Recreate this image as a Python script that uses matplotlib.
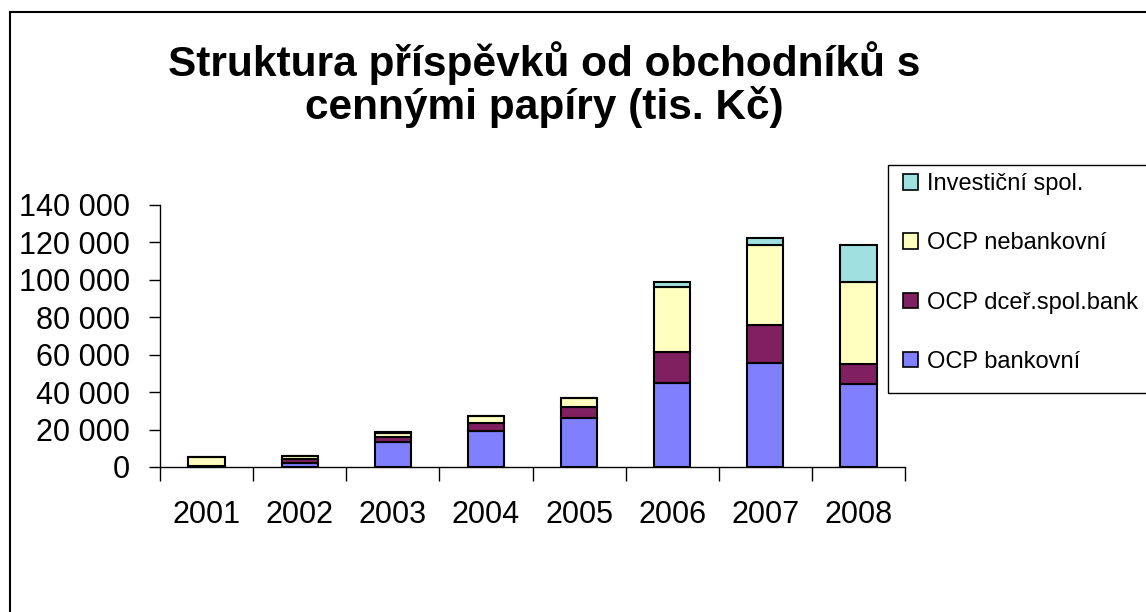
import matplotlib
matplotlib.use("Agg")
import matplotlib.pyplot as plt
from matplotlib.patches import Rectangle
from matplotlib.lines import Line2D
import numpy as np

plt.rcParams['font.family'] = ['Liberation Sans', 'DejaVu Sans']

years = ["2001", "2002", "2003", "2004", "2005", "2006", "2007", "2008"]
ocp_bankovni = [300, 2300, 13200, 19400, 26000, 45000, 55700, 44200]
ocp_dcer = [500, 1800, 3000, 4300, 5900, 16200, 20300, 10700]
ocp_nebankovni = [4300, 1900, 2000, 3600, 4800, 35100, 42700, 43800]
investicni = [0, 0, 300, 0, 0, 2500, 3400, 20100]

series_names = ["OCP bankovní", "OCP dceř.spol.bank", "OCP nebankovní", "Investiční spol."]
series_colors = ["#8080FF", "#802060", "#FFFFC0", "#A0E0E0"]
yticks = [0, 20000, 40000, 60000, 80000, 100000, 120000, 140000]

W, H = 1146, 612
fig = plt.figure(figsize=(W / 100, H / 100), dpi=100)
ax = fig.add_axes([160 / W, 1 - 467 / H, 745 / W, 262 / H])

x = np.arange(len(years))
bottom = np.zeros(len(years))
handles = []
for vals, name, col in zip([ocp_bankovni, ocp_dcer, ocp_nebankovni, investicni], series_names, series_colors):
    vals = np.array(vals, dtype=float)
    b = ax.bar(x, vals, width=0.39, bottom=bottom, color=col, edgecolor='black', linewidth=1.5, label=name, zorder=3)
    handles.append(b)
    bottom += vals

ax.set_xlim(-0.5, len(years) - 0.5)
ax.set_ylim(0, 140000)
ax.set_yticks(yticks)
ax.set_yticklabels([f"{v:,}".replace(",", " ") for v in yticks], fontsize=22)
ax.set_xticks(np.arange(len(years) + 1) - 0.5)
ax.set_xticklabels([])
ax.set_xticks(x, minor=True)
ax.set_xticklabels(years, minor=True, fontsize=22)
ax.tick_params(axis='x', which='major', length=10, width=1, direction='out')
ax.tick_params(axis='x', which='minor', length=0, pad=24)
ax.tick_params(axis='y', length=8, width=1, direction='out', pad=13.5)
for s in ['top', 'right']:
    ax.spines[s].set_visible(False)
for s in ['left', 'bottom']:
    ax.spines[s].set_linewidth(1)

fig.text(544 / W, 1 - 76 / H, "Struktura příspěvků od obchodníků s",
         ha='center', va='baseline', fontsize=30.5, fontweight='bold')
fig.text(544 / W, 1 - 119 / H, "cennými papíry (tis. Kč)",
         ha='center', va='baseline', fontsize=30.5, fontweight='bold')

leg = fig.legend(handles[::-1], series_names[::-1], loc='upper left',
                 bbox_to_anchor=(903 / W, 1 - 173 / H), bbox_transform=fig.transFigure,
                 fontsize=17, frameon=False,
                 handlelength=0.64, handleheight=0.64, handletextpad=0.38,
                 labelspacing=1.58, borderpad=0, borderaxespad=0)
for h in leg.legend_handles:
    h.set_linewidth(1.2)

fig.patches.append(Rectangle((887.5 / W, 1 - 393 / H), 300 / W, 228 / H, transform=fig.transFigure,
                             fill=False, edgecolor='black', linewidth=1))

fig.lines.append(Line2D([9.5 / W, 9.5 / W], [0, 1 - 12 / H], transform=fig.transFigure,
                        color='black', linewidth=1.5))
fig.lines.append(Line2D([9.5 / W, 1.0], [1 - 12 / H, 1 - 12 / H], transform=fig.transFigure,
                        color='black', linewidth=1.5))

fig.savefig("out.png", dpi=100)
